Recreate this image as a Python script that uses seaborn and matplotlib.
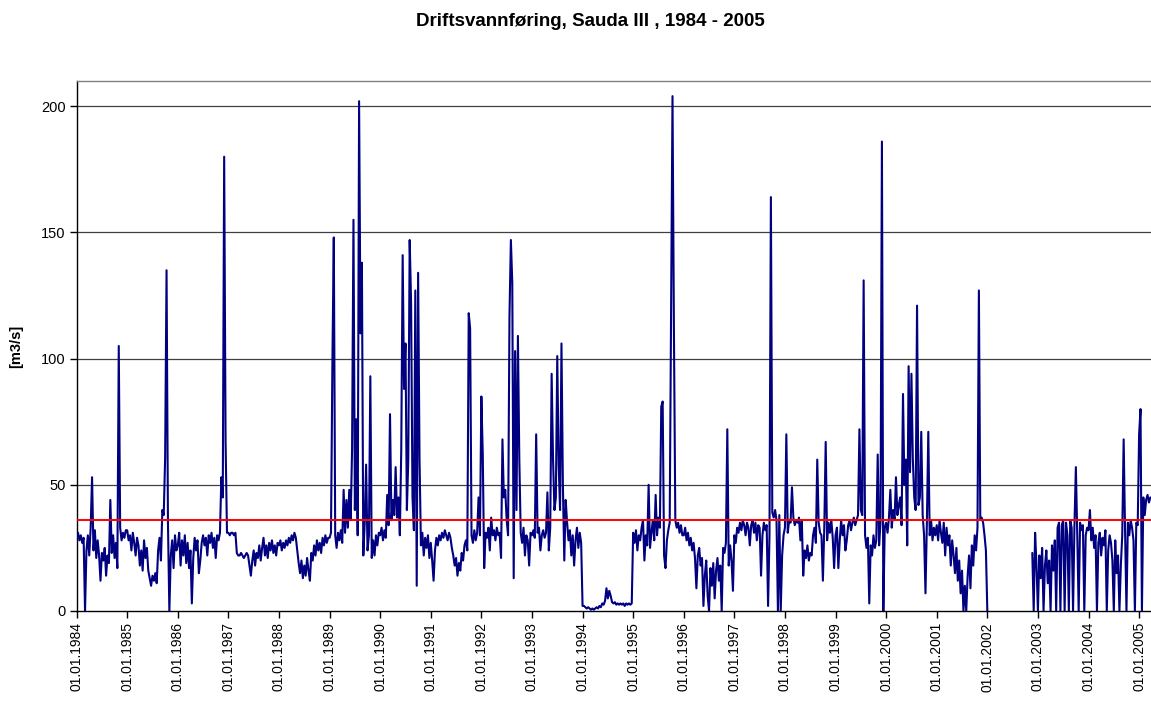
import numpy as np
import pandas as pd
import matplotlib
matplotlib.use("Agg")
import matplotlib.pyplot as plt
import seaborn as sns

# ---------------- data ----------------
title = "Driftsvannføring, Sauda III , 1984 - 2005"
y_label = "[m3/s]"
ref_level = 36
years = list(range(1984, 2006))
tick_labels = [f"01.01.{y}" for y in years]
y_ticks = [0, 50, 100, 150, 200]
slots_per_year = 36   # readings per year, evenly spaced within the year
NA = None             # no data

q1984 = [29, 31, 28, 30, 27, 29, 0, 24, 30, 22, 33, 53, 24, 32, 21, 28, 22, 12,
         23, 20, 25, 14, 22, 19, 44, 23, 30, 21, 27, 17, 105, 33, 28, 31, 29, 32]
q1985 = [32, 28, 30, 24, 31, 27, 22, 29, 26, 18, 24, 16, 28, 21, 25, 16, 13, 10,
         14, 12, 15, 11, 24, 29, 20, 40, 38, 61, 135, 35, 0, 22, 28, 17, 30, 24]
q1986 = [26, 31, 18, 28, 22, 30, 19, 27, 17, 24, 3, 21, 29, 24, 28, 15, 20, 27,
         30, 26, 29, 22, 30, 27, 31, 25, 29, 21, 30, 28, 31, 53, 45, 180, 67, 31]
q1987 = [31, 30, 31, 31, 30, 31, 23, 22, 22, 23, 22, 21, 22, 23, 22, 18, 14, 20,
         24, 18, 23, 21, 26, 20, 25, 29, 22, 26, 21, 27, 24, 28, 23, 26, 22, 27]
q1988 = [26, 28, 24, 27, 25, 28, 26, 29, 27, 30, 28, 31, 29, 24, 19, 15, 20, 13,
         18, 14, 21, 16, 12, 23, 20, 26, 22, 28, 24, 27, 23, 29, 26, 30, 27, 29]
q1989 = [29, 31, 98, 148, 30, 25, 31, 28, 32, 27, 48, 31, 44, 33, 48, 36, 64, 155,
         40, 76, 30, 202, 110, 138, 22, 35, 58, 24, 30, 93, 21, 28, 22, 30, 26, 31]
q1990 = [30, 33, 28, 32, 29, 46, 34, 78, 36, 44, 38, 57, 37, 45, 30, 64, 141, 88,
         106, 40, 60, 147, 122, 45, 32, 127, 10, 134, 60, 26, 31, 22, 29, 25, 30, 21]
q1991 = [27, 20, 12, 24, 29, 26, 30, 28, 31, 29, 32, 30, 28, 31, 29, 25, 22, 18,
         21, 14, 19, 16, 23, 20, 26, 28, 24, 118, 112, 30, 27, 32, 28, 31, 45, 30]
q1992 = [85, 62, 17, 31, 29, 33, 24, 37, 30, 32, 28, 33, 30, 31, 21, 68, 45, 48,
         36, 30, 117, 147, 130, 13, 103, 40, 109, 60, 31, 27, 33, 22, 30, 28, 18, 31]
q1993 = [30, 32, 29, 70, 31, 33, 24, 30, 32, 29, 31, 47, 24, 33, 94, 60, 40, 45,
         101, 58, 40, 106, 50, 20, 44, 35, 28, 32, 22, 30, 18, 28, 33, 25, 31, 27]
q1994 = [2, 2, 1.5, 1, 1.5, 1, 0.5, 1, 0.5, 1, 1.5, 1, 2, 1.5, 3, 2.5, 4, 9,
         5, 8, 6, 3.5, 3, 3.5, 2.5, 3, 2.5, 3, 2.5, 3, 2, 3, 2.5, 3, 2.5, 3]
q1995 = [31, 27, 32, 24, 30, 28, 33, 36, 20, 30, 26, 50, 25, 31, 36, 28, 46, 30,
         37, 33, 81, 83, 22, 17, 28, 32, 35, 117, 204, 112, 36, 33, 35, 31, 34, 30]
q1996 = [30, 33, 28, 31, 26, 29, 24, 27, 21, 9, 22, 25, 18, 21, 2, 14, 20, 6,
         0, 17, 10, 19, 5, 16, 21, 12, 18, 0, 25, 23, 27, 72, 18, 26, 20, 8]
q1997 = [30, 27, 33, 31, 35, 32, 36, 34, 30, 35, 33, 26, 34, 36, 31, 35, 28, 34,
         33, 14, 30, 35, 32, 34, 2, 30, 164, 39, 37, 40, 36, 0, 38, 0, 22, 30]
q1998 = [33, 70, 31, 36, 35, 49, 37, 34, 36, 35, 37, 28, 36, 14, 24, 21, 26, 20,
         23, 22, 30, 33, 27, 60, 35, 31, 30, 12, 33, 67, 28, 35, 31, 36, 29, 17]
q1999 = [30, 33, 17, 28, 36, 30, 34, 24, 28, 34, 36, 32, 35, 37, 34, 36, 38, 72,
         40, 38, 131, 30, 25, 29, 3, 26, 22, 30, 25, 28, 62, 26, 35, 186, 0, 33]
q2000 = [35, 31, 37, 48, 33, 40, 36, 53, 38, 42, 45, 34, 86, 50, 60, 26, 97, 55,
         94, 60, 45, 40, 121, 42, 45, 71, 38, 30, 7, 35, 71, 30, 36, 28, 33, 30]
q2001 = [34, 28, 36, 31, 27, 35, 22, 33, 26, 30, 18, 28, 22, 15, 25, 12, 20, 7,
         16, 0, 10, 0, 14, 22, 9, 26, 18, 30, 24, 33, 127, 36, 37, 35, 30, 24]
q2002 = [0, NA, NA, NA, NA, NA, NA, NA, NA, NA, NA, NA, NA, NA, NA, NA, NA, NA,
         NA, NA, NA, NA, NA, NA, NA, NA, NA, NA, NA, NA, NA, NA, 23, 0, 31, 18]
q2003 = [0, 22, 13, 25, 0, 18, 24, 11, 20, 0, 26, 16, 28, 0, 33, 35, 0, 34,
         36, 0, 35, 30, 0, 36, 33, 0, 34, 57, 30, 0, 35, 32, 34, 0, 30, 33]
q2004 = [32, 40, 28, 33, 25, 30, 0, 27, 31, 22, 29, 26, 32, 0, 24, 30, 27, 20,
         0, 28, 15, 22, 0, 18, 30, 68, 32, 0, 35, 30, 36, 33, 28, 0, 35, 34]
q2005 = [70, 80, 0, 45, 38, 44, 46, 43, 45]

yearly = [q1984, q1985, q1986, q1987, q1988, q1989, q1990, q1991, q1992, q1993,
          q1994, q1995, q1996, q1997, q1998, q1999, q2000, q2001, q2002, q2003,
          q2004, q2005]

# ---------------- build table ----------------
rows = []
seg = 0
prev_missing = False
for yr, vals in zip(years, yearly):
    for i, v in enumerate(vals):
        if v is None:
            if not prev_missing:
                seg += 1
            prev_missing = True
            continue
        prev_missing = False
        rows.append((yr + i / slots_per_year, float(v), seg))
df = pd.DataFrame(rows, columns=["t", "q", "seg"])

# ---------------- plot ----------------
sns.set_style("white")
plt.rcParams["font.family"] = ["Liberation Sans", "DejaVu Sans"]
plt.rcParams["text.color"] = "black"
plt.rcParams["axes.labelcolor"] = "black"
plt.rcParams["xtick.color"] = "black"
plt.rcParams["ytick.color"] = "black"

W, H = 1151, 706
fig = plt.figure(figsize=(W / 100, H / 100), dpi=100)
ax = fig.add_axes([76.6 / W, 1 - 611 / H, 1 - 76.6 / W, (611 - 81) / H])

for yv in y_ticks[1:]:
    ax.axhline(yv, color="#404040", lw=0.9, zorder=1)

sns.lineplot(data=df, x="t", y="q", units="seg", estimator=None, sort=False,
             color="#000080", lw=1.5, ax=ax, zorder=3)
ax.axhline(ref_level, color="#ff0000", lw=1.4, zorder=4)

ax.set_xlim(years[0], 2005.235)
ax.set_ylim(0, 210)
ax.set_xticks(years)
ax.set_xticklabels(tick_labels, rotation=90, fontsize=10, color="black")
ax.set_yticks(y_ticks)
ax.set_yticklabels([str(v) for v in y_ticks], fontsize=10.5, color="black")
ax.tick_params(axis="both", direction="out", length=5, width=1, color="black",
               labelcolor="black", bottom=True, left=True, pad=3)
ax.set_xlabel("")
ax.set_ylabel(y_label, fontsize=10.5, fontweight="bold", labelpad=13, color="black")

for side in ["left", "bottom"]:
    ax.spines[side].set_color("black")
    ax.spines[side].set_linewidth(1.0)
ax.spines["top"].set_color("#808080")
ax.spines["top"].set_linewidth(1.0)
ax.spines["right"].set_visible(False)

fig.text(590 / W, 1 - 22 / H, title, ha="center", va="center",
         fontsize=13.5, fontweight="bold", color="black")

fig.savefig("out.png", dpi=100)
